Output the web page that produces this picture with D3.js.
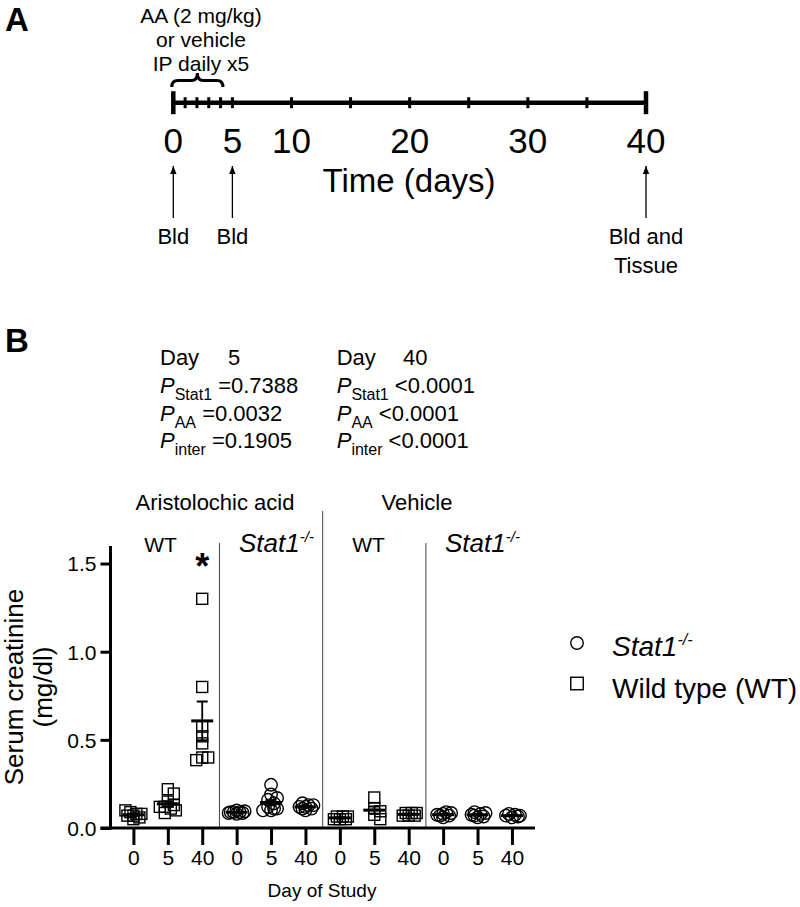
<!DOCTYPE html>
<html>
<head>
<meta charset="utf-8">
<script src="https://cdn.jsdelivr.net/npm/d3@7/dist/d3.min.js"></script>
<style>
  html, body { margin: 0; padding: 0; background: #fff; }
  svg { display: block; }
  text { font-family: "Liberation Sans", Arial, Helvetica, sans-serif; fill: #000; }
</style>
</head>
<body>
<svg id="chart" width="800" height="907"></svg>
<script>
// ---------------- DATA ----------------
// Panel A: timeline
const timelineTicks = [0, 1, 2, 3, 4, 5, 10, 15, 20, 25, 30, 35, 40];
const timelineLabels = [0, 5, 10, 20, 30, 40];
const samplingDays = [0, 5, 40];
const samplingLabels = [["Bld"], ["Bld"], ["Bld and", "Tissue"]];
const dosingLines = ["AA (2 mg/kg)", "or vehicle", "IP daily x5"];
const dosingDays = [0, 4.2];

// Panel B: serum creatinine (mg/dl), per day of study 0, 5, 40
const studyDays = ["0", "5", "40"];
const aaWT = [
  [0.05, 0.06, 0.07, 0.07, 0.08, 0.08, 0.09, 0.10],
  [0.22, 0.195, 0.15, 0.13, 0.12, 0.12, 0.11, 0.10, 0.085],
  [1.30, 0.80, 0.575, 0.52, 0.48, 0.40, 0.40, 0.385]
];
const aaStat1 = [
  [0.08, 0.085, 0.09, 0.09, 0.09, 0.095, 0.10, 0.085],
  [0.245, 0.19, 0.17, 0.16, 0.14, 0.12, 0.11, 0.10, 0.10, 0.11],
  [0.10, 0.11, 0.12, 0.12, 0.13, 0.13, 0.14, 0.11]
];
const vehWT = [
  [0.05, 0.05, 0.05, 0.065, 0.065, 0.065],
  [0.173, 0.113, 0.095, 0.075, 0.05],
  [0.07, 0.07, 0.07, 0.085, 0.085, 0.085]
];
const vehStat1 = [
  [0.06, 0.07, 0.075, 0.08, 0.085, 0.09, 0.07],
  [0.06, 0.065, 0.075, 0.08, 0.085, 0.09, 0.07],
  [0.06, 0.065, 0.07, 0.075, 0.08, 0.07]
];
const groupSeries = [aaWT, aaStat1, vehWT, vehStat1];
const groupShapes = ["square", "circle", "square", "circle"];
const groupGenotypes = ["WT", "Stat1", "WT", "Stat1"];
const treatments = ["Aristolochic acid", "Vehicle"];
const yTicks = [0, 0.5, 1.0, 1.5];
const statsDay5 = [["Stat1", "=0.7388"], ["AA", "=0.0032"], ["inter", "=0.1905"]];
const statsDay40 = [["Stat1", "<0.0001"], ["AA", "<0.0001"], ["inter", "<0.0001"]];
const legendItems = [["circle", "Stat1", true], ["square", "Wild type (WT)", false]];
const significant = [[0, 2]]; // group index, day index

// ---------------- DRAW ----------------
const svg = d3.select("#chart");
svg.append("rect").attr("width", 800).attr("height", 907).attr("fill", "#fff");

// panel letters
svg.append("text").attr("x", 5).attr("y", 31).attr("font-size", 33).attr("font-weight", "bold").text("A");
svg.append("text").attr("x", 5).attr("y", 352).attr("font-size", 33).attr("font-weight", "bold").text("B");

// ---- Panel A ----
const xA = d3.scaleLinear().domain([0, 40]).range([173.3, 646]);
const tlY = 102.7;
const gA = svg.append("g");
gA.append("line").attr("x1", xA(0)).attr("x2", xA(40)).attr("y1", tlY).attr("y2", tlY)
  .attr("stroke", "#000").attr("stroke-width", 4.5);
gA.selectAll(".tlt").data(timelineTicks).enter().append("line")
  .attr("x1", d => xA(d)).attr("x2", d => xA(d))
  .attr("y1", d => (d === 0 || d === 40) ? tlY - 11.5 : tlY - 5.5)
  .attr("y2", d => (d === 0 || d === 40) ? tlY + 11.5 : tlY + 5.5)
  .attr("stroke", "#000").attr("stroke-width", d => (d === 0 || d === 40) ? 4.5 : 3);
gA.selectAll(".tll").data(timelineLabels).enter().append("text")
  .attr("x", d => xA(d)).attr("y", 153).attr("text-anchor", "middle").attr("font-size", 35)
  .text(d => d);
gA.append("text").attr("x", 409).attr("y", 192).attr("text-anchor", "middle").attr("font-size", 33)
  .text("Time (days)");

// brace
{
  const x0 = xA(dosingDays[0]) - 1.5, x1 = xA(dosingDays[1]), xm = (x0 + x1) / 2;
  const yb = 87, yh = 80.5, yt = 73;
  const p = `M${x0},${yb} Q${x0},${yh} ${x0 + 6},${yh} L${xm - 6},${yh} Q${xm},${yh} ${xm},${yt} ` +
            `Q${xm},${yh} ${xm + 6},${yh} L${x1 - 6},${yh} Q${x1},${yh} ${x1},${yb}`;
  gA.append("path").attr("d", p).attr("fill", "none").attr("stroke", "#000").attr("stroke-width", 3);
}
gA.selectAll(".dose").data(dosingLines).enter().append("text")
  .attr("x", 201).attr("y", (d, i) => 23 + i * 24).attr("text-anchor", "middle").attr("font-size", 21)
  .text(d => d);

// arrows
const defs = svg.append("defs");
defs.append("marker").attr("id", "arr").attr("viewBox", "0 0 10 10").attr("refX", 10).attr("refY", 5)
  .attr("markerWidth", 8).attr("markerHeight", 8).attr("markerUnits", "userSpaceOnUse").attr("orient", "auto")
  .append("path").attr("d", "M0,1 L10,5 L0,9 Z").attr("fill", "#000");
samplingDays.forEach((d, i) => {
  gA.append("line").attr("x1", xA(d)).attr("x2", xA(d)).attr("y1", 218).attr("y2", 166)
    .attr("stroke", "#000").attr("stroke-width", 1.3).attr("marker-end", "url(#arr)");
  samplingLabels[i].forEach((s, j) => {
    gA.append("text").attr("x", xA(d)).attr("y", 244 + j * 29).attr("text-anchor", "middle")
      .attr("font-size", 22).text(s);
  });
});

// ---- Panel B ----
const nCols = groupSeries.length * studyDays.length;
const x = d3.scaleLinear().domain([-0.68, 11.67]).range([110, 535]);
const y = d3.scaleLinear().domain([0, 1.6]).range([828, 828 - 1.6 * 176.3]);

// separators
[2.5, 5.5, 8.5].forEach((c, i) => {
  svg.append("line").attr("x1", x(c)).attr("x2", x(c)).attr("y1", i === 1 ? 511 : 543).attr("y2", 828)
    .attr("stroke", "#444").attr("stroke-width", 1);
});

// axes
const yAxis = d3.axisLeft(y).tickValues(yTicks).tickFormat(d3.format(".1f")).tickSize(10).tickPadding(4);
const gy = svg.append("g").attr("transform", "translate(110.5,0)").call(yAxis);
gy.select(".domain").attr("stroke-width", 3).attr("d", `M-10,${y(0)}H0V${y(1.6)}`);
gy.selectAll(".tick line").attr("stroke-width", 3);
gy.selectAll(".tick text").attr("font-size", 21).attr("font-family", "Liberation Sans, Arial, sans-serif")
  .attr("fill", "#000").attr("dy", "0.35em");

const xTickVals = d3.range(nCols);
const xAxis = d3.axisBottom(x).tickValues(xTickVals).tickFormat(i => studyDays[i % 3]).tickSize(17).tickPadding(5);
const gx = svg.append("g").attr("transform", `translate(0,${y(0)})`).call(xAxis);
gx.select(".domain").attr("stroke-width", 3).attr("d", `M109,0H535`);
gx.selectAll(".tick line").attr("stroke-width", 3);
gx.selectAll(".tick text").attr("font-size", 21).attr("font-family", "Liberation Sans, Arial, sans-serif")
  .attr("fill", "#000");

// y title
const yt = svg.append("text").attr("transform", "translate(23,687) rotate(-90)").attr("text-anchor", "middle")
  .attr("font-size", 26);
yt.append("tspan").attr("x", 0).attr("y", 0).text("Serum creatinine");
yt.append("tspan").attr("x", 0).attr("y", 29).text("(mg/dl)");

svg.append("text").attr("x", 322).attr("y", 897).attr("text-anchor", "middle").attr("font-size", 19)
  .text("Day of Study");

// treatment labels
svg.append("text").attr("x", 215).attr("y", 510).attr("text-anchor", "middle").attr("font-size", 22).text(treatments[0]);
svg.append("text").attr("x", 417).attr("y", 510).attr("text-anchor", "middle").attr("font-size", 22).text(treatments[1]);

// genotype labels
const genoX = [160.5, 239, 368.5, 445];
groupGenotypes.forEach((g, i) => {
  if (g === "WT") {
    svg.append("text").attr("x", genoX[i]).attr("y", 552).attr("text-anchor", "middle").attr("font-size", 21).text("WT");
  } else {
    const t = svg.append("text").attr("x", genoX[i]).attr("y", 552).attr("font-size", 26).attr("font-style", "italic");
    t.append("tspan").text("Stat1");
    t.append("tspan").attr("dy", -10).attr("font-size", 15).text("-/-");
  }
});

// stats text
function statsBlock(x0, dayLabel, dayX, rows) {
  svg.append("text").attr("x", x0).attr("y", 365).attr("font-size", 22).text("Day");
  svg.append("text").attr("x", dayX).attr("y", 365).attr("font-size", 22).text(dayLabel);
  rows.forEach((r, i) => {
    const t = svg.append("text").attr("x", x0).attr("y", 393 + i * 27.5).attr("font-size", 22);
    t.append("tspan").attr("font-style", "italic").text("P");
    t.append("tspan").attr("font-size", 16).attr("dy", 7).text(r[0]);
    t.append("tspan").attr("dy", -7).text("\u00a0" + r[1]);
  });
}
statsBlock(160, "5", 228, statsDay5);
statsBlock(336.7, "40", 403, statsDay40);

// markers
function drawMarker(g, shape, cx, cy, size) {
  if (shape === "circle") {
    g.append("circle").attr("cx", cx).attr("cy", cy).attr("r", size / 2)
      .attr("fill", "none").attr("stroke", "#000").attr("stroke-width", 1.4);
  } else {
    g.append("rect").attr("x", cx - size / 2).attr("y", cy - size / 2).attr("width", size).attr("height", size)
      .attr("fill", "none").attr("stroke", "#000").attr("stroke-width", 1.4);
  }
}

// simple deterministic beeswarm: spread overlapping points sideways
function swarm(vals, cx) {
  const placed = [];
  const cands = [0, 3, -3, 6, -6, 8, -8];
  return vals.map(v => {
    const py = y(v);
    let best = cx, bestD = -1;
    for (const c of cands) {
      const px = cx + c;
      let md = Infinity;
      for (const p of placed) md = Math.min(md, Math.hypot(p[0] - px, p[1] - py));
      if (md >= 6) { best = px; bestD = md; break; }
      if (md > bestD) { bestD = md; best = px; }
    }
    placed.push([best, py]);
    return [best, py];
  });
}

const gp = svg.append("g");
groupSeries.forEach((series, gi) => {
  series.forEach((vals, di) => {
    const col = gi * 3 + di;
    const cx = x(col);
    const pts = swarm(vals, cx);
    pts.forEach(p => drawMarker(gp, groupShapes[gi], p[0], p[1], groupShapes[gi] === "circle" ? 12.5 : 11));
    const m = d3.mean(vals);
    const sem = d3.deviation(vals) / Math.sqrt(vals.length);
    gp.append("line").attr("x1", cx).attr("x2", cx).attr("y1", y(m - sem)).attr("y2", y(m + sem))
      .attr("stroke", "#000").attr("stroke-width", 1.8);
    [m - sem, m + sem].forEach(v => {
      gp.append("line").attr("x1", cx - 5.5).attr("x2", cx + 5.5).attr("y1", y(v)).attr("y2", y(v))
        .attr("stroke", "#000").attr("stroke-width", 2);
    });
    gp.append("line").attr("x1", cx - 11).attr("x2", cx + 11).attr("y1", y(m)).attr("y2", y(m))
      .attr("stroke", "#000").attr("stroke-width", 3);
  });
});

// significance asterisk
significant.forEach(s => {
  svg.append("text").attr("x", x(s[0] * 3 + s[1])).attr("y", 579).attr("text-anchor", "middle")
    .attr("font-size", 36).attr("font-weight", "bold").text("*");
});

// legend
legendItems.forEach((it, i) => {
  const cy = 643 + i * 40.5;
  drawMarker(svg, it[0], 577, cy, 12.5);
  const t = svg.append("text").attr("x", 612).attr("y", cy + 12.5 + i * 2).attr("font-size", 28);
  if (it[2]) {
    t.attr("font-style", "italic");
    t.append("tspan").text(it[1]);
    t.append("tspan").attr("dy", -11).attr("font-size", 16).text("-/-");
  } else {
    t.text(it[1]);
  }
});
</script>
</body>
</html>
